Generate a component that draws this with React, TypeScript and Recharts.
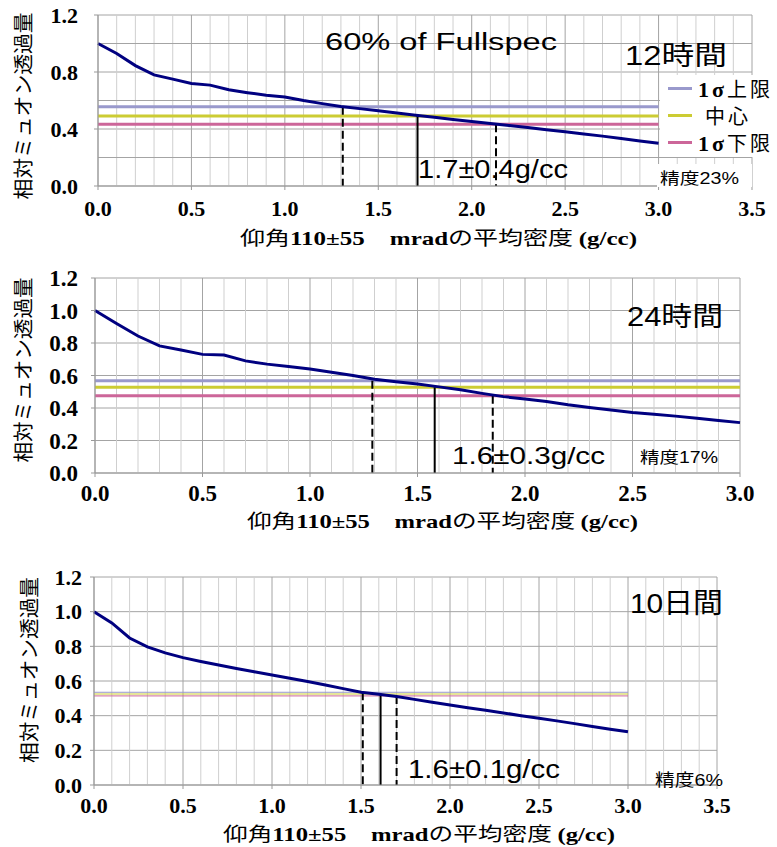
import React from "react";
import {
  CartesianGrid,
  Legend,
  Line,
  LineChart,
  ReferenceLine,
  XAxis,
  YAxis,
} from "recharts";

// 平均密度 (g/cc)
const densities = [
  0, 0.1, 0.2, 0.3, 0.4, 0.5, 0.6, 0.7, 0.8, 0.9, 1.0, 1.1, 1.2, 1.3, 1.4, 1.5,
  1.6, 1.7, 1.8, 1.9, 2.0, 2.1, 2.2, 2.3, 2.4, 2.5, 2.6, 2.7, 2.8, 2.9, 3.0,
];

// 相対ミュオン透過量
const transmission12h = [
  1.0, 0.93, 0.845, 0.78, 0.75, 0.72, 0.708, 0.675, 0.655, 0.637, 0.625, 0.6,
  0.578, 0.558, 0.543, 0.528, 0.513, 0.497, 0.482, 0.467, 0.452, 0.438, 0.424,
  0.41, 0.395, 0.38, 0.365, 0.35, 0.333, 0.316, 0.3,
];
const transmission24h = [
  1.0, 0.92, 0.843, 0.782, 0.757, 0.73, 0.726, 0.69, 0.67, 0.655, 0.64, 0.62,
  0.6, 0.577, 0.562, 0.547, 0.53, 0.512, 0.49, 0.47, 0.455, 0.44, 0.42, 0.403,
  0.388, 0.373, 0.362, 0.35, 0.337, 0.323, 0.31,
];
const transmission10d = [
  1.0, 0.935, 0.848, 0.797, 0.762, 0.735, 0.713, 0.692, 0.672, 0.653, 0.635,
  0.616, 0.597, 0.577, 0.556, 0.535, 0.524, 0.511, 0.494, 0.477, 0.461, 0.446,
  0.431, 0.416, 0.4, 0.385, 0.37, 0.354, 0.338, 0.322, 0.307,
];

// 1σ上限 / 中心 / 1σ下限 levels and where they cross the curve
const levelNames = ["1σ上限", "中心", "1σ下限"];
const levelColors = ["#9999cc", "#cccc33", "#cc6699"];
const levels12h = [0.556, 0.491, 0.433];
const levels24h = [0.567, 0.528, 0.476];
const levels10d = [0.535, 0.525, 0.514];
const cross12h = [1.31, 1.71, 2.13];
const cross24h = [1.29, 1.58, 1.85];
const cross10d = [1.51, 1.61, 1.7];

const xTicks35 = [0, 0.5, 1, 1.5, 2, 2.5, 3, 3.5];
const xTicks30 = [0, 0.5, 1, 1.5, 2, 2.5, 3];
const xMinor35 = [
  0.1, 0.2, 0.3, 0.4, 0.6, 0.7, 0.8, 0.9, 1.1, 1.2, 1.3, 1.4, 1.6, 1.7, 1.8,
  1.9, 2.1, 2.2, 2.3, 2.4, 2.6, 2.7, 2.8, 2.9, 3.1, 3.2, 3.3, 3.4,
];
const xMinor30 = xMinor35.filter((v) => v < 3);
const yTicksCoarse = [0, 0.4, 0.8, 1.2];
const yTicksFine = [0, 0.2, 0.4, 0.6, 0.8, 1.0, 1.2];

const SERIF = '"Liberation Serif", "Times New Roman", serif';
const SANS = '"Liberation Sans", "Noto Sans CJK JP", sans-serif';
const CJK = '"Noto Sans CJK JP", sans-serif';

function LevelLegend() {
  return (
    <div
      style={{
        background: "#fff",
        width: 117,
        height: 82,
        fontSize: 20,
        fontFamily: CJK,
        color: "#000",
      }}
    >
      {levelNames.map((name, i) => (
        <div
          key={name}
          style={{ height: 27, display: "flex", alignItems: "center" }}
        >
          <span
            style={{
              display: "inline-block",
              width: 24,
              height: 3,
              background: levelColors[i],
              marginLeft: 8,
            }}
          />
          <span
            style={{
              marginLeft: i === 1 ? 13 : 6,
              letterSpacing: 3,
              whiteSpace: "nowrap",
              lineHeight: "27px",
            }}
          >
            {name.startsWith("1σ") ? (
              <>
                <b style={{ fontFamily: SERIF, fontSize: 22 }}>1σ</b>
                {name.slice(2)}
              </>
            ) : (
              name
            )}
          </span>
        </div>
      ))}
    </div>
  );
}

type PanelProps = {
  top: number;
  height: number;
  box: { left: number; right: number; top: number; bottom: number };
  xMax: number;
  xTicks: number[];
  xMinor: number[];
  yTicks: number[];
  values: number[];
  levels: number[];
  cross: number[];
  levelWidth: number;
  fontSize: number;
  yMargin: number;
  xMargin: number;
  legend?: boolean;
};

function Panel(p: PanelProps) {
  const data = densities.map((d, i) => ({ density: d, value: p.values[i] }));
  const tick = {
    fontSize: p.fontSize,
    fontWeight: "bold",
    fontFamily: SERIF,
    fill: "#000",
  };
  return (
    <div
      style={{ position: "absolute", left: 0, top: p.top, width: 777, height: p.height }}
    >
      <LineChart
        width={777}
        height={p.height}
        data={data}
        margin={{
          top: p.box.top,
          right: 777 - p.box.right,
          left: p.box.left - 60,
          bottom: p.height - p.box.bottom - 30,
        }}
      >
        {p.xMinor.map((v) => (
          <ReferenceLine key={"mn" + v} x={v} stroke="#cfcfcf" />
        ))}
        <CartesianGrid stroke="#a4a4a4" />
        <XAxis
          type="number"
          dataKey="density"
          domain={[0, p.xMax]}
          ticks={p.xTicks}
          interval={0}
          height={30}
          tickSize={4}
          tickMargin={p.xMargin}
          tick={tick}
          axisLine={{ stroke: "#999" }}
          tickLine={{ stroke: "#999" }}
          tickFormatter={(v: number) => v.toFixed(1)}
        />
        <YAxis
          type="number"
          domain={[0, 1.2]}
          ticks={p.yTicks}
          interval={0}
          width={60}
          tickSize={4}
          tickMargin={p.yMargin}
          tick={tick}
          axisLine={{ stroke: "#999" }}
          tickLine={{ stroke: "#999" }}
          tickFormatter={(v: number) => v.toFixed(1)}
        />
        {p.yTicks.length < yTicksFine.length &&
          yTicksFine
            .filter((v) => !p.yTicks.includes(v))
            .map((v) => (
              <ReferenceLine key={"hy" + v} y={v} stroke="#a4a4a4" />
            ))}
        {p.levels.map((v, i) => (
          <ReferenceLine
            key={"lv" + i}
            segment={[
              { x: 0, y: v },
              { x: 3, y: v },
            ]}
            stroke={levelColors[i]}
            strokeWidth={p.levelWidth}
          />
        ))}
        {p.cross.map((d, i) => (
          <ReferenceLine
            key={"cx" + i}
            segment={[
              { x: d, y: p.levels[i] },
              { x: d, y: 0 },
            ]}
            stroke="#000"
            strokeWidth={2}
            strokeDasharray={i === 1 ? undefined : "8 4"}
          />
        ))}
        <Line
          type="linear"
          dataKey="value"
          stroke="#000080"
          strokeWidth={3}
          dot={false}
          legendType="none"
          isAnimationActive={false}
        />
        {p.legend && (
          <Legend
            layout="vertical"
            align="center"
            verticalAlign="middle"
            content={() => <LevelLegend />}
            wrapperStyle={{ left: 660, top: 75, width: 117, height: 82 }}
          />
        )}
      </LineChart>
    </div>
  );
}

function Note(props: {
  x: number;
  y: number;
  w: number;
  size: number;
  text: string;
  family?: string;
}) {
  return (
    <text
      x={props.x}
      y={props.y}
      fontSize={props.size}
      fontFamily={props.family || SANS}
      textLength={props.w}
      lengthAdjust="spacingAndGlyphs"
      fill="#000"
    >
      {props.text}
    </text>
  );
}

function XTitle({ x, y, w }: { x: number; y: number; w: number }) {
  return (
    <text
      x={x}
      y={y}
      fontSize={19}
      fontFamily={CJK}
      textLength={w}
      lengthAdjust="spacingAndGlyphs"
      fill="#000"
    >
      <tspan fontFamily={CJK}>仰角</tspan>
      <tspan fontWeight="bold" fontFamily={SERIF}>
        110±55{"\u3000"}mrad
      </tspan>
      <tspan fontFamily={CJK}>の平均密度 </tspan>
      <tspan fontWeight="bold" fontFamily={SERIF}>
        (g/cc)
      </tspan>
    </text>
  );
}

function YTitle({ cx, cy, len }: { cx: number; cy: number; len: number }) {
  return (
    <text
      transform={`translate(${cx} ${cy}) rotate(-90)`}
      textAnchor="middle"
      dominantBaseline="central"
      fontSize={20}
      fontFamily={CJK}
      textLength={len}
      lengthAdjust="spacingAndGlyphs"
      fill="#000"
    >
      相対ミュオン透過量
    </text>
  );
}

export default function App() {
  return (
    <div
      style={{
        position: "absolute",
        left: 0,
        top: 0,
        width: 777,
        height: 847,
        background: "#fff",
        overflow: "hidden",
      }}
    >
      <Panel
        top={0}
        height={250}
        box={{ left: 98, right: 752, top: 15, bottom: 186 }}
        xMax={3.5}
        xTicks={xTicks35}
        xMinor={xMinor35}
        yTicks={yTicksCoarse}
        values={transmission12h}
        levels={levels12h}
        cross={cross12h}
        levelWidth={3}
        fontSize={22}
        yMargin={16}
        xMargin={10}
        legend
      />
      <Panel
        top={250}
        height={290}
        box={{ left: 95, right: 740, top: 28, bottom: 223 }}
        xMax={3}
        xTicks={xTicks30}
        xMinor={xMinor30}
        yTicks={yTicksFine}
        values={transmission24h}
        levels={levels24h}
        cross={cross24h}
        levelWidth={3}
        fontSize={23}
        yMargin={13}
        xMargin={8}
      />
      <Panel
        top={550}
        height={297}
        box={{ left: 94, right: 717, top: 27, bottom: 235 }}
        xMax={3.5}
        xTicks={xTicks35}
        xMinor={xMinor35}
        yTicks={yTicksFine}
        values={transmission10d}
        levels={levels10d}
        cross={cross10d}
        levelWidth={1}
        fontSize={22}
        yMargin={8}
        xMargin={8}
      />
      <svg
        width={777}
        height={847}
        style={{ position: "absolute", left: 0, top: 0, pointerEvents: "none" }}
      >
        {/* 12時間 */}
        <Note x={325} y={50} w={232} size={23} text="60% of Fullspec" />
        <Note x={625} y={65} w={102} size={27} text="12時間" />
        <Note x={418} y={178} w={150} size={26} text="1.7±0.4g/cc" />
        <rect x={657} y={164} width={95} height={23} fill="#fff" />
        <Note x={660} y={184} w={79} size={16} text="精度23%" />
        <XTitle x={240} y={245} w={397} />
        <YTitle cx={22} cy={106} len={187} />

        {/* 24時間 */}
        <Note x={627} y={326} w={96} size={27} text="24時間" />
        <Note x={452} y={464} w={153} size={24} text="1.6±0.3g/cc" />
        <Note x={640} y={463} w={78} size={16} text="精度17%" />
        <XTitle x={247} y={528} w={391} />
        <YTitle cx={22} cy={370} len={185} />

        {/* 10日間 */}
        <Note x={630} y={613} w={93} size={28} text="10日間" />
        <Note x={408} y={778} w={152} size={26} text="1.6±0.1g/cc" />
        <Note x={655} y={786} w={68} size={17} text="精度6%" />
        <XTitle x={223} y={841} w={392} />
        <YTitle cx={28} cy={670} len={186} />
      </svg>
    </div>
  );
}
